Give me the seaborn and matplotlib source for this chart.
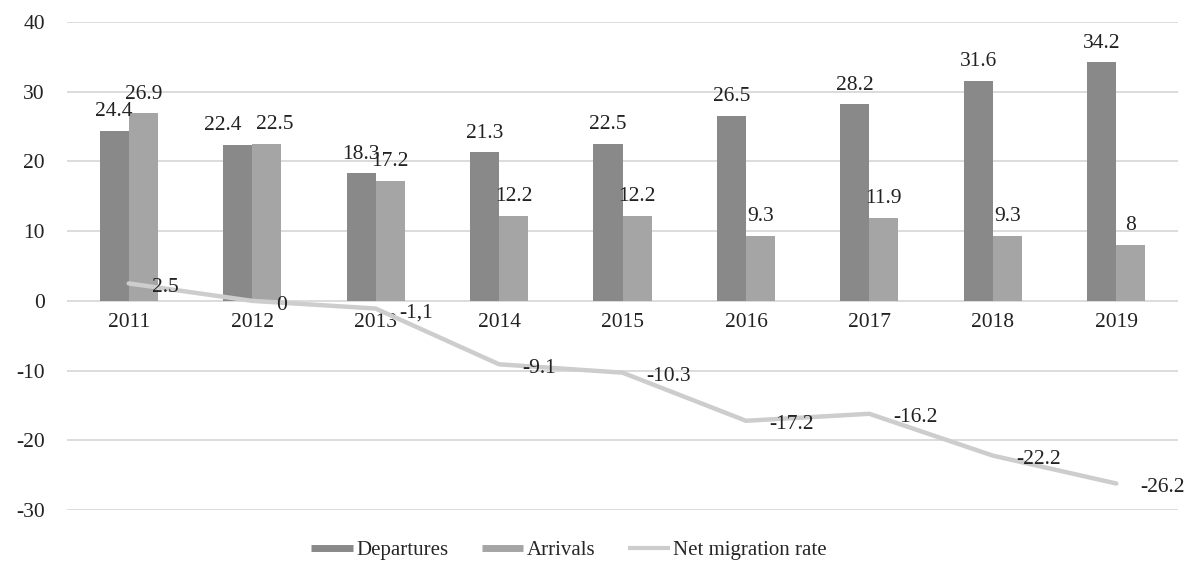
import numpy as np
import pandas as pd
import matplotlib
matplotlib.use('Agg')
import matplotlib.pyplot as plt
from matplotlib.lines import Line2D
import seaborn as sns

years = ['2011', '2012', '2013', '2014', '2015', '2016', '2017', '2018', '2019']
departures = [24.4, 22.4, 18.3, 21.3, 22.5, 26.5, 28.2, 31.6, 34.2]
arrivals = [26.9, 22.5, 17.2, 12.2, 12.2, 9.3, 11.9, 9.3, 8]
net_rate = [2.5, 0, -1.1, -9.1, -10.3, -17.2, -16.2, -22.2, -26.2]
net_labels = ['2.5', '0', '-1,1', '-9.1', '-10.3', '-17.2', '-16.2', '-22.2', '-26.2']
series_names = ['Departures', 'Arrivals', 'Net migration rate']

# таблица для barplot
df = pd.DataFrame({'year': years * 2,
                   'value': departures + arrivals,
                   'series': [series_names[0]] * len(years) + [series_names[1]] * len(years)})

sns.set_style('white')
plt.rcParams['font.family'] = ['Liberation Serif', 'DejaVu Serif']
plt.rcParams['axes.unicode_minus'] = False

c_dep = '#898989'
c_arr = '#a5a5a5'
c_net = '#cdcdcd'
fs = 15.5

fig = plt.figure(figsize=(11.99, 5.65), dpi=100)
ax = fig.add_axes([67 / 1199, 1 - 510 / 565, (1178 - 67) / 1199, (510 - 22) / 565])

sns.barplot(data=df, x='year', y='value', hue='series', order=years,
            palette=[c_dep, c_arr], width=0.47, gap=0, saturation=1,
            linewidth=0, legend=False, ax=ax)

conts = list(ax.containers)
labs = []
for cont in conts:
    labs.append(ax.bar_label(cont, fmt='%g', padding=7, fontsize=fs, color='#222222'))
# в 2012 подписи раздвинуты, чтобы не налезали
labs[0][1].xyann = (-11, 7)
labs[1][1].xyann = (6, 7)

# линия чистой миграции
xpos = np.arange(len(years))
sns.lineplot(x=xpos, y=net_rate, color=c_net, lw=3.2, ax=ax, legend=False)
for x, y, lab in zip(xpos, net_rate, net_labels):
    ax.annotate(lab, (x, y), xytext=(17, -3), textcoords='offset points',
                ha='left', va='center', fontsize=fs, color='#222222')

ax.set_xlim(-0.5, len(years) - 0.5)
ax.set_ylim(-30, 40)
ax.set_yticks(range(-30, 41, 10))
ax.yaxis.grid(True, color='#d9d9d9', lw=1.3)
ax.set_axisbelow(True)
ax.set_xlabel('')
ax.set_ylabel('')

for s in ['top', 'right', 'left']:
    ax.spines[s].set_visible(False)
ax.spines['bottom'].set_position(('data', 0))
ax.spines['bottom'].set_color('none')
ax.tick_params(axis='x', length=0, pad=9, labelsize=fs, colors='#222222')
ax.tick_params(axis='y', length=0, pad=16, labelsize=fs, colors='#222222')

handles = [Line2D([], [], color=c_dep, lw=5, solid_capstyle='butt'),
           Line2D([], [], color=c_arr, lw=5, solid_capstyle='butt'),
           Line2D([], [], color=c_net, lw=3, solid_capstyle='butt')]
fig.legend(handles, series_names, loc='center', bbox_to_anchor=(569 / 1199, 1 - 550 / 565),
           ncol=3, frameon=False, fontsize=15, handlelength=2.0, handletextpad=0.15,
           columnspacing=1.6)

fig.savefig('out.png', dpi=100)
